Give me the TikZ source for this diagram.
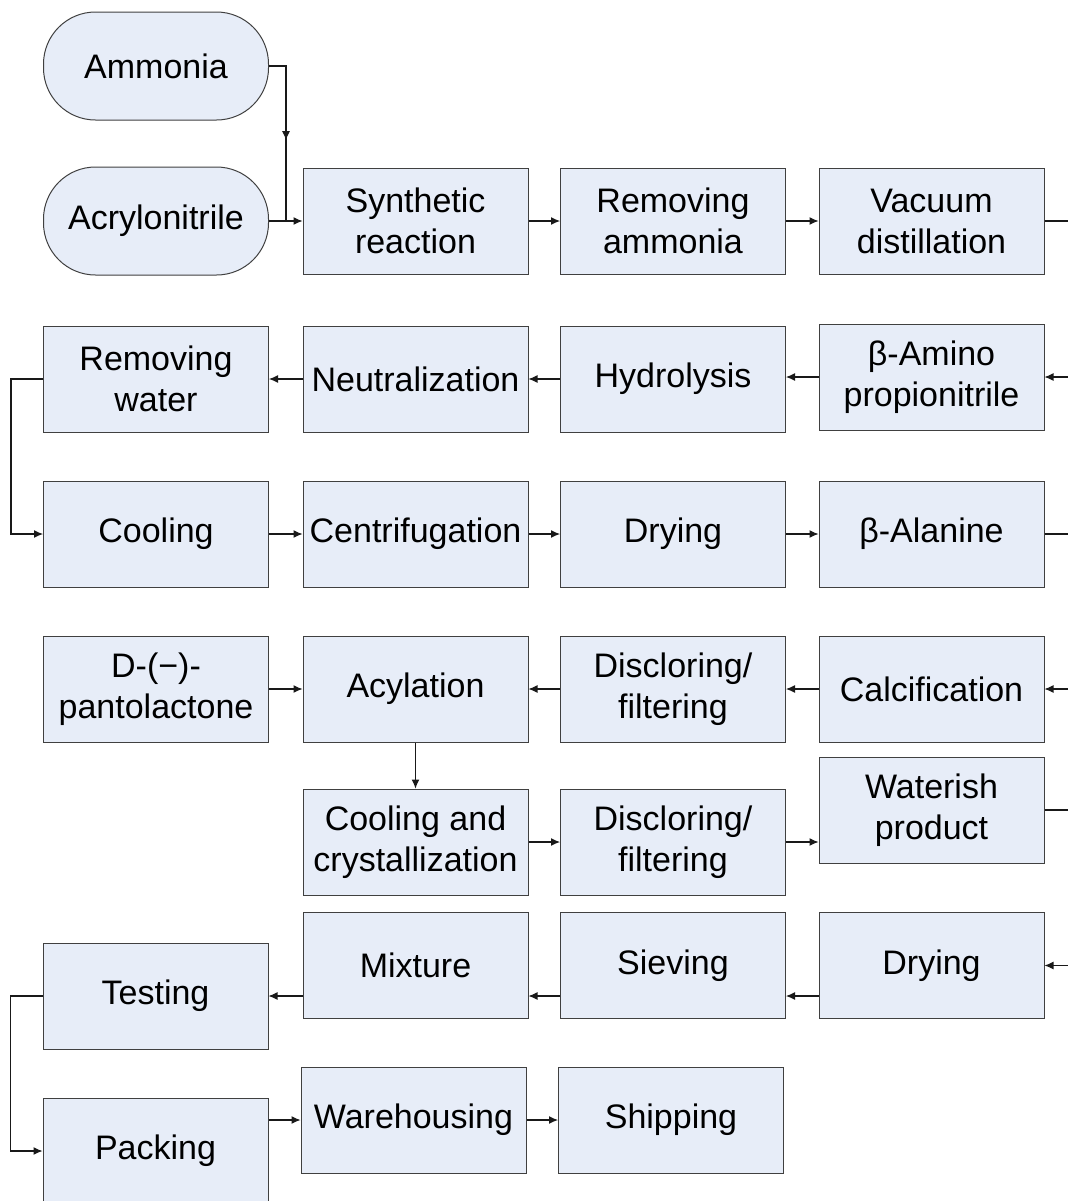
\documentclass[tikz,border=0pt]{standalone}
\usepackage{fontspec}
\setmainfont{Liberation Sans}
\usetikzlibrary{arrows.meta,decorations.markings}

\begin{document}
\begin{tikzpicture}[x=0.5pt,y=-0.5pt,
	box/.style={draw=black!75, fill=boxfill, line width=0.5pt, minimum width=112.5pt, minimum height=53pt, inner sep=0pt, align=center, font=\fontsize{17}{20.5}\selectfont},
	pill/.style={box, rounded corners=26pt, minimum height=54pt},
	line/.style={draw=black!90, line width=0.55pt},
	arr/.style={line, -{Latex[length=4.5pt,width=4pt]}},
	midarr/.style={line, postaction={decorate}, decoration={markings, mark=at position 0.53 with {\arrow{Latex[length=4.5pt,width=4pt]}}}}]
	\definecolor{boxfill}{RGB}{231,237,248}
	\useasboundingbox (0,0) rectangle (1068,1201);
	\clip (0,0) rectangle (1068,1201);
	% raw materials
	\node [pill] (amm) at (156,66) {Ammonia};
	\node [pill] (acr) at (156,221) {Acrylonitrile};
	% first row
	\node [box] (syn) at (415.5,221) {Synthetic\\reaction};
	\node [box] (rem) at (673,221) {Removing\\ammonia};
	\node [box] (vac) at (931.5,221) {Vacuum\\distillation};
	% second row
	\node [box] (amino) at (931.5,377) {β-Amino\\propionitrile};
	\node [box] (hyd) at (673,379) {Hydrolysis};
	\node [box] (neu) at (415.5,379) {Neutralization};
	\node [box] (wat) at (156,379) {Removing\\water};
	% third row
	\node [box] (cool) at (156,534) {Cooling};
	\node [box] (cen) at (415.5,534) {Centrifugation};
	\node [box] (dry) at (673,534) {Drying};
	\node [box] (ala) at (931.5,534) {β-Alanine};
	% fourth row
	\node [box] (pan) at (156,689) {D-(−)-\\pantolactone};
	\node [box] (acy) at (415.5,689) {Acylation};
	\node [box] (dis) at (673,689) {Discloring/\\filtering};
	\node [box] (cal) at (931.5,689) {Calcification};
	% fifth row
	\node [box] (cc) at (415.5,842) {Cooling and\\crystallization};
	\node [box] (dis2) at (673,842) {Discloring/\\filtering};
	\node [box] (wa) at (931.5,810) {Waterish\\product};
	% sixth row
	\node [box] (dry2) at (931.5,965.5) {Drying};
	\node [box] (sie) at (673,965.5) {Sieving};
	\node [box] (mix) at (415.5,965) {Mixture};
	\node [box] (tes) at (155.5,996) {Testing};
	% last row
	\node [box] (pac) at (155.5,1151) {Packing};
	\node [box] (war) at (413.5,1120) {Warehousing};
	\node [box] (shi) at (671,1120) {Shipping};
	% free ends at the right edge
	\coordinate (jn) at (286,221);
	\coordinate (e1) at (1068,221);
	\coordinate (e2) at (1068,377);
	\coordinate (e3) at (1068,534);
	\coordinate (e4) at (1068,689);
	\coordinate (e5) at (1068,810);
	\coordinate (e6) at (1068,965.5);
	% connectors
	\draw [midarr] (amm.east) -| (jn);
	\draw [arr] (acr) -- (syn);
	\draw [arr] (syn) -- (rem);
	\draw [arr] (rem) -- (vac);
	\draw [line] (vac.east) -- (e1);
	\draw [arr] (e2) -- (amino.east);
	\draw [arr] (amino.west) -- (amino.west -| hyd.east);
	\draw [arr] (hyd) -- (neu);
	\draw [arr] (neu) -- (wat);
	\draw [arr] (wat.west) -- ++(-32,0) |- (cool.west);
	\draw [arr] (cool) -- (cen);
	\draw [arr] (cen) -- (dry);
	\draw [arr] (dry) -- (ala);
	\draw [line] (ala.east) -- (e3);
	\draw [arr] (e4) -- (cal.east);
	\draw [arr] (cal) -- (dis);
	\draw [arr] (dis) -- (acy);
	\draw [arr] (pan) -- (acy);
	\draw [arr] (acy) -- (cc);
	\draw [arr] (cc) -- (dis2);
	\draw [arr] (dis2.east) -- (dis2.east -| wa.west);
	\draw [line] (wa.east) -- (e5);
	\draw [arr] (e6) -- (dry2.east);
	\draw [arr] (dry2.west |- tes.west) -- (sie.east |- tes.west);
	\draw [arr] (sie.west |- tes.west) -- (mix.east |- tes.west);
	\draw [arr] (mix.west |- tes.west) -- (tes.east);
	\draw [arr] (tes.west) -- ++(-32,0) |- (pac.west);
	\draw [arr] (pac.east |- war.west) -- (war.west);
	\draw [arr] (war) -- (shi);
\end{tikzpicture}
\end{document}
